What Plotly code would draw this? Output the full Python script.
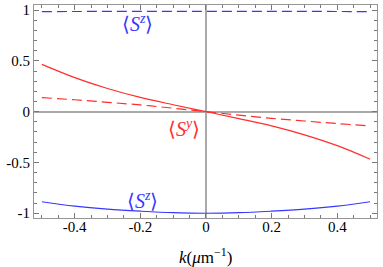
import plotly.graph_objects as go

k = [-0.5, -0.4, -0.3, -0.2, -0.1, 0.0, 0.1, 0.2, 0.3, 0.4, 0.5]
sy_solid = [0.465, 0.335, 0.228, 0.14, 0.068, 0.0, -0.068, -0.14, -0.228, -0.335, -0.468]
sy_dashed = [0.138, 0.117, 0.092, 0.066, 0.034, 0.0, -0.034, -0.066, -0.092, -0.117, -0.14]
sz_dashed = [0.985, 0.986, 0.987, 0.988, 0.988, 0.988, 0.988, 0.988, 0.987, 0.986, 0.985]
sz_solid = [-0.887, -0.93, -0.96, -0.98, -0.995, -1.0, -0.995, -0.98, -0.96, -0.93, -0.887]

x_ticks = [-0.4, -0.2, 0, 0.2, 0.4]
x_ticktext = ["-0.4", "-0.2", "0", "0.2", "0.4"]
y_ticks = [-1, -0.5, 0, 0.5, 1]
y_ticktext = ["-1", "-0.5", "0", "0.5", "1"]

RED = "rgb(255,45,45)"
BLUE = "rgb(55,55,255)"
FONT = "Liberation Serif, Times New Roman, serif"

fig = go.Figure()
fig.add_trace(go.Scatter(x=k, y=sz_dashed, mode="lines", line=dict(color=BLUE, width=1.2, dash="10px,5px", shape="spline")))
fig.add_trace(go.Scatter(x=k, y=sz_solid, mode="lines", line=dict(color=BLUE, width=1.2, shape="spline")))
fig.add_trace(go.Scatter(x=k, y=sy_dashed, mode="lines", line=dict(color=RED, width=1.2, dash="10px,5px", shape="spline")))
fig.add_trace(go.Scatter(x=k, y=sy_solid, mode="lines", line=dict(color=RED, width=1.2, shape="spline")))

lab_font = dict(family=FONT, size=20)
fig.add_annotation(x=-0.21, y=0.87, text="⟨<i>S</i><sup><i>z</i></sup>⟩", showarrow=False, font=dict(color=BLUE, **lab_font))
fig.add_annotation(x=-0.193, y=-0.87, text="⟨<i>S</i><sup><i>z</i></sup>⟩", showarrow=False, font=dict(color=BLUE, **lab_font))
fig.add_annotation(x=-0.067, y=-0.16, text="⟨<i>S</i><sup><i>y</i></sup>⟩", showarrow=False, font=dict(color=RED, **lab_font))
fig.add_annotation(x=0.5, xref="paper", y=-0.18, yref="paper", yanchor="middle",
                   text="<i>k</i>(<i>μ</i>m<sup>−1</sup>)", showarrow=False,
                   font=dict(family=FONT, size=17, color="black"))

axis_common = dict(
    showgrid=False, zeroline=True, zerolinecolor="rgb(170,170,170)", zerolinewidth=1.5,
    showline=True, linecolor="rgb(150,150,150)", linewidth=1, mirror="ticks",
    ticks="inside", ticklen=5, tickcolor="rgb(120,120,120)", tickwidth=1,
    tickfont=dict(family=FONT, size=15, color="black"), automargin=False,
)

fig.update_layout(
    width=383, height=267,
    margin=dict(l=34, r=6, t=5, b=49),
    paper_bgcolor="white", plot_bgcolor="white",
    showlegend=False,
    font=dict(family=FONT),
    xaxis=dict(range=[-0.524, 0.521], tickvals=x_ticks, ticktext=x_ticktext, ticklabelstandoff=-5,
               minor=dict(ticks="inside", dtick=0.05, ticklen=3, tickcolor="rgb(120,120,120)"),
               **axis_common),
    yaxis=dict(range=[-1.047, 1.05], tickvals=y_ticks, ticktext=y_ticktext,
               minor=dict(ticks="inside", dtick=0.1, ticklen=3, tickcolor="rgb(120,120,120)"),
               **axis_common),
)

fig.write_html("out.html", config={"displayModeBar": False},
               post_script="document.body.style.margin='0';document.body.style.padding='0';")
